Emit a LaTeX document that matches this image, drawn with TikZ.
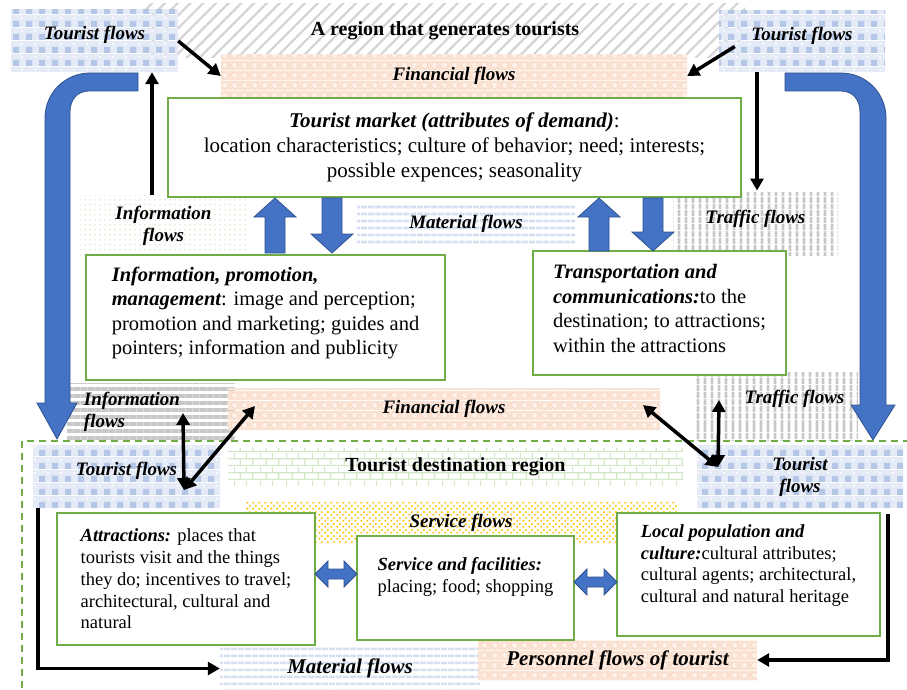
\documentclass[tikz,border=0pt]{standalone}
\usepackage{fontspec}
\setmainfont{Liberation Serif}
\usetikzlibrary{arrows.meta,patterns.meta}

\definecolor{boxgreen}{HTML}{70AD47}
\definecolor{arrowblue}{HTML}{4472C4}
\definecolor{arrowedge}{HTML}{2F528F}
\definecolor{tfbase}{HTML}{E4EAF6}
\definecolor{tfdark}{HTML}{B4C7E7}
\definecolor{finbase}{HTML}{FBE3D4}
\definecolor{finring}{HTML}{F8D6C2}
\definecolor{matblue}{HTML}{D5DFF2}
\definecolor{infogreen}{HTML}{C5E0B4}
\definecolor{stripegray}{HTML}{C8C8C8}
\definecolor{brickgreen}{HTML}{D3E8C6}
\definecolor{servgold}{HTML}{FFC000}

% fill patterns of the flow areas
\tikzdeclarepattern{
  name=plaid, type=colored,
  bottom left={(0pt,0pt)}, top right={(13pt,13pt)},
  tile size={(13pt,13pt)},
  code={
    \fill[tfbase] (0pt,0pt) rectangle (13pt,13pt);
    \fill[tfdark] (0pt,0pt) rectangle (6.5pt,6.5pt);
    \fill[white] (9.75pt,9.75pt) circle[radius=1.3pt];
  }
}
\tikzdeclarepattern{
  name=bubbles, type=colored,
  bottom left={(0pt,0pt)}, top right={(10pt,10pt)},
  tile size={(10pt,10pt)},
  code={
    \fill[finbase] (0pt,0pt) rectangle (10pt,10pt);
    \filldraw[draw=finring, fill=white!50!finbase, line width=0.6pt] (5pt,5pt) circle[radius=3.4pt];
  }
}
\tikzdeclarepattern{
  name=greenbricks, type=colored,
  bottom left={(0pt,0pt)}, top right={(26pt,14pt)},
  tile size={(26pt,14pt)},
  code={
    \draw[brickgreen, line width=1.2pt] (0pt,0.7pt) -- (26pt,0.7pt) (0pt,7.7pt) -- (26pt,7.7pt)
      (6.5pt,0.7pt) -- (6.5pt,7.7pt) (19.5pt,0.7pt) -- (19.5pt,7.7pt)
      (0.6pt,7.7pt) -- (0.6pt,14pt) (13pt,7.7pt) -- (13pt,14pt);
  }
}
\tikzdeclarepattern{
  name=golddots, type=colored,
  bottom left={(0pt,0pt)}, top right={(6pt,6pt)},
  tile size={(6pt,6pt)},
  code={
    \fill[servgold] (1.5pt,1.5pt) circle[radius=1.25pt] (4.5pt,4.5pt) circle[radius=1.25pt];
  }
}

\newcommand\flowfont{\fontsize{19}{22}\selectfont\bfseries\itshape}
\newcommand\bigflowfont{\fontsize{21}{24}\selectfont\bfseries\itshape}
\newcommand\titlefont{\fontsize{20}{24}\selectfont\bfseries}
\newcommand\boxfont{\fontsize{20.5}{24.5}\selectfont}
\newcommand\smallboxfont{\fontsize{18.5}{21.7}\selectfont}
\newcommand\hd[1]{{\bfseries\itshape #1}}

% block arrows: x, tip/top, base/tip
\newcommand\upblock[3]{\filldraw[blockarrow] (#1-10,#3) -- (#1-10,#2+19) -- (#1-21,#2+19) -- (#1,#2) -- (#1+21,#2+19) -- (#1+10,#2+19) -- (#1+10,#3) -- cycle;}
\newcommand\downblock[3]{\filldraw[blockarrow] (#1-10,#2) -- (#1-10,#3-19) -- (#1-21,#3-19) -- (#1,#3) -- (#1+21,#3-19) -- (#1+10,#3-19) -- (#1+10,#2) -- cycle;}
\newcommand\sideblock[3]{\filldraw[blockarrow] (#1,#3) -- (#1+13,#3-13) -- (#1+13,#3-5) -- (#2-13,#3-5) -- (#2-13,#3-13) -- (#2,#3) -- (#2-13,#3+13) -- (#2-13,#3+5) -- (#1+13,#3+5) -- (#1+13,#3+13) -- cycle;}

\tikzset{
  zone/.style={inner sep=0pt, align=center, font=\flowfont},
  lifted/.style={text height=13pt, text depth=#1},
  tourist/.style={zone, pattern=plaid},
  money/.style={zone, pattern=bubbles},
  goods/.style={zone, pattern={Lines[angle=0,distance=6.5pt,line width=2.8pt]}, pattern color=matblue},
  news/.style={zone, pattern={Dots[distance=5pt,radius=0.75pt]}, pattern color=infogreen},
  newsgray/.style={zone, pattern={Lines[angle=0,distance=7pt,line width=3.5pt]}, pattern color=stripegray},
  traffic/.style={zone, pattern={Lines[angle=90,distance=6.5pt,line width=3pt]}, pattern color=stripegray},
  hatched/.style={zone, font=\titlefont, pattern={Lines[angle=45,distance=9pt,line width=2.2pt]}, pattern color=black!17},
  bricked/.style={zone, font=\titlefont, pattern=greenbricks},
  service/.style={zone, pattern=golddots},
  box/.style={draw=boxgreen, line width=1.6pt, fill=white, inner sep=0pt, align=left, font=\boxfont},
  smallbox/.style={box, font=\smallboxfont},
  blockarrow/.style={fill=arrowblue, draw=arrowedge, line width=0.8pt},
  flowarrow/.style={line width=3.5pt, -{Triangle[length=12pt,width=13pt]}},
  twoway/.style={line width=3.5pt, {Triangle[length=12pt,width=13pt]}-{Triangle[length=12pt,width=13pt]}},
  regionline/.style={draw=boxgreen, line width=1.6pt, dash pattern=on 7pt off 5pt}
}

\begin{document}
\begin{tikzpicture}[x=1pt, y=-1pt]
  \useasboundingbox (0,0) rectangle (907,690);
  \clip (0,0) rectangle (907,690);

  % generating region
  \node[hatched, minimum width=600pt, minimum height=54pt] (gen) at (445,31) {A region that generates tourists};
  \node[tourist, lifted=15pt, minimum width=167pt, minimum height=62pt] (tfl) at (94.5,41) {Tourist flows};
  \node[tourist, lifted=15pt, minimum width=166pt, minimum height=61pt] (tfr) at (802,41.5) {Tourist flows};
  \node[money, minimum width=466pt, minimum height=42pt] (fin1) at (454,76) {Financial flows};
  \node[news, minimum width=167pt, minimum height=62pt] (info1) at (163.5,226) {Information\\flows};
  \node[goods, minimum width=218pt, minimum height=38pt] (mat1) at (466,224) {Material flows};
  \node[traffic, lifted=13pt, minimum width=165pt, minimum height=63pt] (trf1) at (755.5,223.5) {Traffic flows};
  \node[newsgray, align=left, minimum width=168pt, minimum height=57pt] (info2) at (151,411.5) {Information\hspace*{38pt}\\flows};
  \node[money, minimum width=432pt, minimum height=42pt] (fin2) at (444,409) {Financial flows};
  \node[traffic, lifted=18pt, minimum width=163pt, minimum height=68pt] (trf2) at (776.5,406) {\hspace*{36pt}Traffic flows};

  % destination region
  \node[bricked, minimum width=455pt, minimum height=37pt] (dest) at (455.5,466.5) {Tourist destination region};
  \node[tourist, lifted=15pt, minimum width=187pt, minimum height=63pt] (tdl) at (126.5,476.5) {Tourist flows};
  \node[tourist, minimum width=206pt, minimum height=63pt] (tdr) at (800,476.5) {Tourist\\flows};
  \node[service, minimum width=432pt, minimum height=41pt] (servfl) at (461,522.5) {Service flows};
  \node[goods, font=\bigflowfont, minimum width=260pt, minimum height=43pt] (mat2) at (350,668.5) {Material flows};
  \node[money, font=\bigflowfont, minimum width=279pt, minimum height=40pt] (pers) at (617.5,660) {Personnel flows of tourist};

  % big tourist flow arrows
  \filldraw[blockarrow] (138,73) -- (90,73) .. controls (65,73) and (45,93) .. (45,118) -- (45,403) -- (37,403) -- (57,439) -- (77,403) -- (70,403) -- (70,112) .. controls (70,100) and (77,91) .. (89,91) -- (138,91) -- cycle;
  \filldraw[blockarrow] (785,73) -- (841,73) .. controls (866,73) and (886,93) .. (886,118) -- (886,405) -- (895,405) -- (873,440) -- (851,405) -- (860,405) -- (860,112) .. controls (860,100) and (853,91) .. (841,91) -- (785,91) -- cycle;

  % boxes
  \node[box, align=center, font=\fontsize{21}{25}\selectfont, minimum width=573pt, minimum height=99pt] (mkt) at (454.5,147.5)
    {\hd{Tourist market (attributes of demand)}:\\location characteristics; culture of behavior; need; interests;\\possible expences; seasonality};
  \node[box, minimum width=359pt, minimum height=125pt] (info) at (265.5,317.5)
    {\hd{Information, promotion,}\\\hd{management}: image and perception;\\promotion and marketing; guides and\\pointers; information and publicity\\[-11pt]\mbox{}};
  \node[box, minimum width=253pt, minimum height=124pt] (trans) at (659.5,313)
    {\hd{Transportation and}\\\hd{communications:}to the\\destination; to attractions;\\within the attractions\\[-15pt]\mbox{}};
  \node[smallbox, minimum width=258pt, minimum height=132pt] (attr) at (186,579)
    {\hd{Attractions:} places that\\tourists visit and the things\\they do; incentives to travel;\\architectural, cultural and\\natural};
  \node[smallbox, minimum width=217pt, minimum height=104pt] (serv) at (465.5,588)
    {\hd{Service and facilities:}\\placing; food; shopping\\[4pt]\mbox{}};
  \node[smallbox, minimum width=263pt, minimum height=123pt] (local) at (748.5,574.5)
    {\hd{Local population and}\\\hd{culture:}cultural attributes;\\cultural agents; architectural,\\cultural and natural heritage\\\mbox{}};

  % exchanges between the boxes
  \upblock{275}{198}{253}
  \downblock{332}{198}{253}
  \upblock{599}{198}{251}
  \downblock{653}{198}{251}
  \sideblock{315}{357}{574}
  \sideblock{574}{617}{582}

  \draw[regionline] (22,700) -- (22,441) -- (920,441);

  % flow arrows
  \coordinate (upx) at (152,0);
  \coordinate (dnx) at (757,0);
  \draw[flowarrow] (tfl.east) -- (fin1.west);
  \draw[flowarrow] ([xshift=16pt,yshift=-5pt]tfr.west) -- (fin1.east);
  \draw[flowarrow] (info1.north -| upx) -- (tfl.south -| upx);
  \draw[flowarrow] (tfr.south -| dnx) -- (trf1.north -| dnx);

  \coordinate (ilow) at (183,413);
  \coordinate (flow) at (255,406);
  \coordinate (tlow) at (184,490);
  \coordinate (fright) at (643,405);
  \coordinate (trfpt) at (719,400);
  \coordinate (tright) at (718,467);
  \draw[twoway] (ilow) -- (tlow);
  \draw[twoway] (flow) -- (tlow);
  \draw[twoway] (fright) -- (tright);
  \draw[twoway] (trfpt) -- (tright);

  \coordinate (lrun) at (38,508);
  \coordinate (rrun) at (888,514);
  \draw[flowarrow] (lrun) |- (mat2.west);
  \draw[flowarrow] (rrun) |- (pers.east);
\end{tikzpicture}
\end{document}
